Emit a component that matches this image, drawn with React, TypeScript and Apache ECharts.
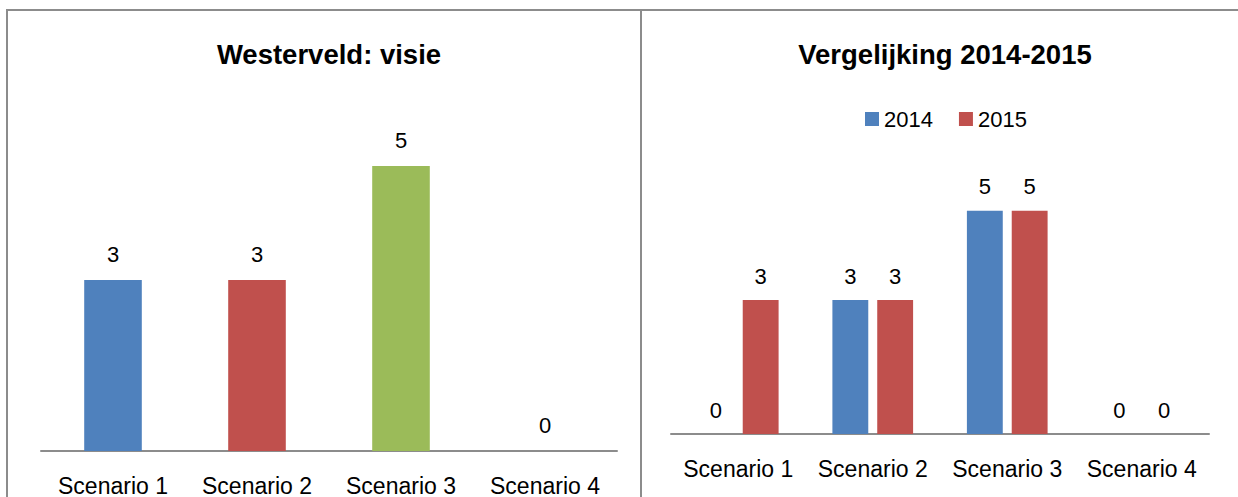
import React, { useEffect, useRef } from "react";
import * as echarts from "echarts";

const categories = ["Scenario 1", "Scenario 2", "Scenario 3", "Scenario 4"];
const visieValues = [3, 3, 5, 0];
const visieColors = ["#4F81BD", "#C0504D", "#9BBB59", "#8064A2"];
const values2014 = [0, 3, 5, 0];
const values2015 = [3, 3, 5, 0];
const leftTitle = "Westerveld: visie";
const rightTitle = "Vergelijking 2014-2015";

const FONT = "'Liberation Sans', Arial, sans-serif";

export default function App() {
  const ref = useRef<HTMLDivElement>(null);
  useEffect(() => {
    if (!ref.current) return;
    const chart = echarts.init(ref.current, null, { renderer: "svg" });
    const border = { stroke: "#8c8c8c", lineWidth: 2 };
    const labelStyle = { color: "#000", fontSize: 22, fontFamily: FONT };
    chart.setOption({
      animation: false,
      backgroundColor: "#fff",
      textStyle: { fontFamily: FONT },
      title: [
        {
          text: leftTitle,
          left: 324,
          textAlign: "center",
          top: 35,
          textStyle: { fontSize: 27.5, fontWeight: "bold", color: "#000", fontFamily: FONT },
        },
        {
          text: rightTitle,
          left: 940,
          textAlign: "center",
          top: 35,
          textStyle: { fontSize: 27.5, fontWeight: "bold", color: "#000", fontFamily: FONT },
        },
      ],
      legend: {
        data: ["2014", "2015"],
        left: 860,
        top: 103,
        icon: "rect",
        itemWidth: 14,
        itemHeight: 14,
        itemGap: 26,
        textStyle: { fontSize: 22, color: "#000", fontFamily: FONT },
      },
      grid: [
        { left: 41, right: 621, top: 109, bottom: 45, containLabel: false },
        { left: 671, right: 29, top: 166, bottom: 63, containLabel: false },
      ],
      xAxis: [0, 1].map((i) => ({
        type: "category",
        gridIndex: i,
        data: categories,
        axisLine: { lineStyle: { color: "#8c8c8c", width: 2 } },
        axisTick: { show: false },
        axisLabel: {
          interval: 0,
          hideOverlap: false,
          margin: 23,
          fontSize: 23,
          color: "#000",
          fontFamily: FONT,
        },
      })),
      yAxis: [0, 1].map((i) => ({
        type: "value",
        gridIndex: i,
        min: 0,
        max: 6,
        interval: 1,
        show: false,
        splitLine: { show: false },
      })),
      series: [
        {
          name: "Westerveld",
          type: "bar",
          xAxisIndex: 0,
          yAxisIndex: 0,
          barWidth: "40%",
          data: visieValues.map((v, i) => ({ value: v, itemStyle: { color: visieColors[i] } })),
          label: { show: true, position: "top", distance: 15, ...labelStyle },
        },
        {
          name: "2014",
          type: "bar",
          xAxisIndex: 1,
          yAxisIndex: 1,
          barGap: "25%",
          barCategoryGap: "40%",
          itemStyle: { color: "#4F81BD" },
          data: values2014,
          label: { show: true, position: "top", distance: 13, ...labelStyle },
        },
        {
          name: "2015",
          type: "bar",
          xAxisIndex: 1,
          yAxisIndex: 1,
          barGap: "25%",
          barCategoryGap: "40%",
          itemStyle: { color: "#C0504D" },
          data: values2015,
          label: { show: true, position: "top", distance: 13, ...labelStyle },
        },
      ],
      graphic: [
        { type: "line", shape: { x1: 6, y1: 10, x2: 1238, y2: 10 }, style: border, silent: true },
        { type: "line", shape: { x1: 7, y1: 10, x2: 7, y2: 497 }, style: border, silent: true },
        { type: "line", shape: { x1: 641, y1: 10, x2: 641, y2: 497 }, style: border, silent: true },
      ],
    });
    return () => chart.dispose();
  }, []);
  return (
    <div
      ref={ref}
      style={{ position: "absolute", left: 0, top: 0, width: 1238, height: 497 }}
    />
  );
}
